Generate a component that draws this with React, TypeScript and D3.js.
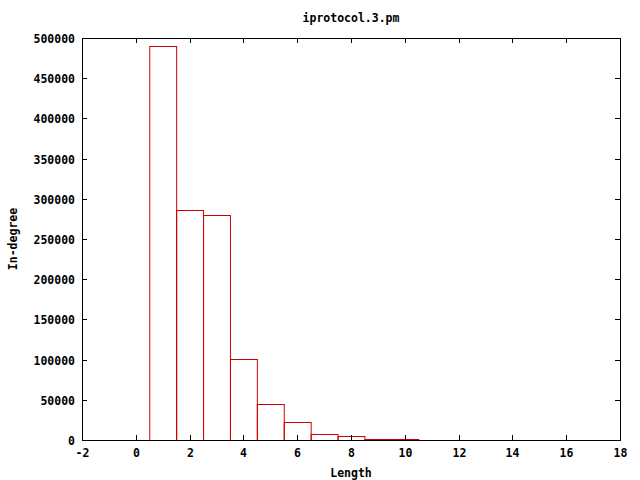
import React from "react";
import * as d3 from "d3";

const lengths = [1, 2, 3, 4, 5, 6, 7, 8, 9, 10];
const inDegree = [490000, 286000, 279500, 100500, 44500, 22500, 7500, 4800, 1200, 900];
const xTicks = [-2, 0, 2, 4, 6, 8, 10, 12, 14, 16, 18];
const yTicks = [0, 50000, 100000, 150000, 200000, 250000, 300000, 350000, 400000, 450000, 500000];
const title = "iprotocol.3.pm";
const xLabel = "Length";
const yLabel = "In-degree";

export default function App() {
  const W = 640, H = 480;
  const L = 82, R = 620, T = 38, B = 440;
  const x = d3.scaleLinear().domain([-2, 18]).range([L, R]);
  const y = d3.scaleLinear().domain([0, 500000]).range([B, T]);
  const font = "'DejaVu Sans Mono', monospace";
  const tick = 5;
  return (
    <svg width={W} height={H} style={{ position: "absolute", left: 0, top: 0, background: "#fff" }}>
      <rect x={0} y={0} width={W} height={H} fill="#fff" />
      {lengths.map((l, i) => (
        <rect key={l} x={x(l - 0.5) + 0.5} y={Math.round(y(inDegree[i])) + 0.5}
          width={x(l + 0.5) - x(l - 0.5)} height={B - Math.round(y(inDegree[i]))}
          fill="none" stroke="#cc0000" strokeWidth={1} />
      ))}
      <rect x={L + 0.5} y={T + 0.5} width={R - L} height={B - T} fill="none" stroke="#000" strokeWidth={1} />
      {xTicks.map(t => {
        const px = Math.round(x(t)) + 0.5;
        return (
          <g key={"x" + t}>
            <line x1={px} x2={px} y1={B} y2={B - tick} stroke="#000" />
            <line x1={px} x2={px} y1={T} y2={T + tick} stroke="#000" />
            <text x={px} y={B + 17} textAnchor="middle" fontFamily={font} fontWeight="bold" fontSize={11.5}>{t}</text>
          </g>
        );
      })}
      {yTicks.map(t => {
        const py = Math.round(y(t)) + 0.5;
        return (
          <g key={"y" + t}>
            <line x1={L} x2={L + tick} y1={py} y2={py} stroke="#000" />
            <line x1={R} x2={R - tick} y1={py} y2={py} stroke="#000" />
            <text x={L - 7} y={py + 4} textAnchor="end" fontFamily={font} fontWeight="bold" fontSize={11.5}>{t}</text>
          </g>
        );
      })}
      <text x={(L + R) / 2} y={22} textAnchor="middle" fontFamily={font} fontWeight="bold" fontSize={11.5}>{title}</text>
      <text x={(L + R) / 2} y={477} textAnchor="middle" fontFamily={font} fontWeight="bold" fontSize={11.5}>{xLabel}</text>
      <text transform={`translate(17,${(T + B) / 2}) rotate(-90)`} textAnchor="middle" fontFamily={font} fontWeight="bold" fontSize={11.5}>{yLabel}</text>
    </svg>
  );
}
